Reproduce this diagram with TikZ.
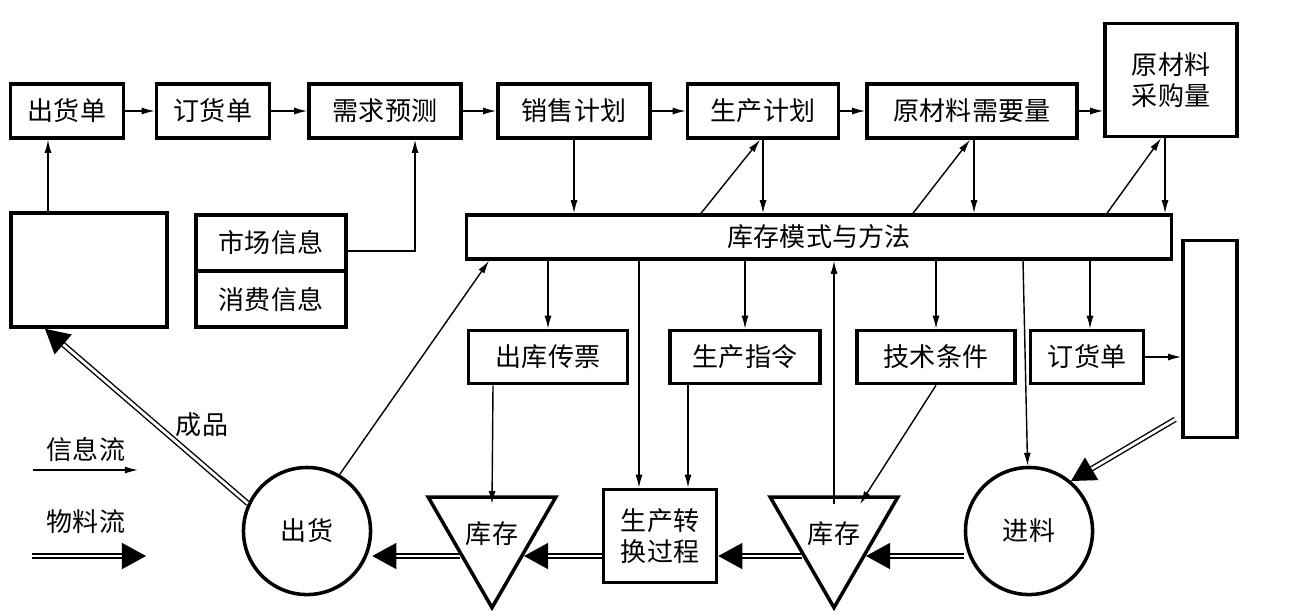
\documentclass[tikz,border=0pt]{standalone}
\usepackage{fontspec}
\setmainfont{Noto Sans CJK SC}
\usetikzlibrary{arrows.meta, shapes.geometric, calc}
\tikzset{
  box/.style={draw, line width=1pt, inner sep=0pt, font=\fontsize{7.4pt}{8.6pt}\selectfont, align=center},
  info/.style={-{Latex[length=0.13cm,width=0.07cm]}, line width=0.4pt},
  mat/.style={double, double distance=0.8pt, line width=0.4pt, -{Triangle[length=0.24cm,width=0.26cm]}},
  tri/.style={draw, line width=1pt, regular polygon, regular polygon sides=3, shape border rotate=180, minimum size=1.21cm, inner sep=0pt, font=\fontsize{7.4pt}{8.6pt}\selectfont},
  rnd/.style={draw, line width=1pt, circle, minimum size=1.27cm, inner sep=0pt, font=\fontsize{7.4pt}{8.6pt}\selectfont}
}
\begin{document}
\begin{tikzpicture}[x=0.01cm, y=-0.01cm]
            \useasboundingbox (0,0) rectangle (1289,614);
            % top row
            \node[box, minimum width=1.13cm, minimum height=0.54cm] (chd) at (67,111) {出货单};
            \node[box, minimum width=1.13cm, minimum height=0.54cm] (dhd) at (213,111) {订货单};
            \node[box, minimum width=1.52cm, minimum height=0.54cm] (xqyc) at (385,111) {需求预测};
            \node[box, minimum width=1.52cm, minimum height=0.54cm] (xsjh) at (574,111) {销售计划};
            \node[box, minimum width=1.51cm, minimum height=0.54cm] (scjh) at (763,111) {生产计划};
            \node[box, minimum width=2.10cm, minimum height=0.54cm] (ylxq) at (972,111) {原材料需要量};
            \node[box, minimum width=1.32cm, minimum height=1.13cm] (ylcg) at (1171,80) {原材料\\采购量};
            % middle
            \node[box, minimum width=1.56cm, minimum height=1.14cm] (kh) at (89,270) {};
            \node[box, minimum width=1.50cm, minimum height=0.56cm] (scxx) at (271,243) {市场信息};
            \node[box, minimum width=1.50cm, minimum height=0.56cm] (xfxx) at (271,299) {消费信息};
            \node[box, minimum width=7.05cm, minimum height=0.44cm] (kcms) at (819,237) {库存模式与方法};
            \node[box, minimum width=0.54cm, minimum height=1.97cm] (gys) at (1210,339) {};
            \node[box, minimum width=1.59cm, minimum height=0.53cm] (ckcp) at (548,357) {出库传票};
            \node[box, minimum width=1.50cm, minimum height=0.53cm] (sczl) at (745,357) {生产指令};
            \node[box, minimum width=1.58cm, minimum height=0.53cm] (jstj) at (936,357) {技术条件};
            \node[box, minimum width=1.13cm, minimum height=0.53cm] (dhd2) at (1087,357) {订货单};
            % bottom
            \node[rnd] (ch) at (307,531) {出货};
            \node[tri] (kc1) at (492,534) {库存};
            \node[box, minimum width=1.13cm, minimum height=0.93cm] (sczh) at (660,536) {生产转\\换过程};
            \node[tri] (kc2) at (834,534) {库存};
            \node[rnd] (jl) at (1029,531) {进料};
            \node[font=\fontsize{7.4pt}{8.6pt}\selectfont] (cp) at (202,425) {成品};
            \node[font=\fontsize{7.4pt}{8.6pt}\selectfont] (xxl) at (86,449) {信息流};
            \node[font=\fontsize{7.4pt}{8.6pt}\selectfont] (wll) at (86,522) {物料流};
            \coordinate (xxa) at (33,470);
            \coordinate (xxb) at (138,470);
            \coordinate (wla) at (32,556);
            \coordinate (wlb) at (146,556);

            % information flow
            \draw[info] (chd) -- (dhd);
            \draw[info] (dhd) -- (xqyc);
            \draw[info] (xqyc) -- (xsjh);
            \draw[info] (xsjh) -- (scjh);
            \draw[info] (scjh) -- (ylxq);
            \draw[info] (ylxq) -- (ylcg.west |- ylxq);
            \draw[info] (kh.north -| 48,0) -- (chd.south -| 48,0);
            \draw[info] (scxx.east |- 0,251) -- (415,251) -- (xqyc.south -| 415,0);
            \draw[info] (xsjh.south) -- (kcms.north -| xsjh.south);
            \draw[info] (kcms.north -| 701,0) -- (scjh.south -| 760,0);
            \draw[info] (scjh.south -| 763,0) -- (kcms.north -| 763,0);
            \draw[info] (kcms.north -| 913,0) -- (ylxq.south -| 970,0);
            \draw[info] (ylxq.south -| 974,0) -- (kcms.north -| 974,0);
            \draw[info] (kcms.north -| 1107,0) -- (ylcg.south -| 1161,0);
            \draw[info] (ylcg.south -| 1165,0) -- (kcms.north -| 1165,0);
            \draw[info] (ch.60) -- (kcms.south -| 489,0);
            \draw[info] (kcms.south -| ckcp) -- (ckcp);
            \draw[info] (kcms.south -| sczl) -- (sczl);
            \draw[info] (kcms.south -| jstj) -- (jstj);
            \draw[info] (kcms.south -| 1090,0) -- (dhd2.north -| 1090,0);
            \draw[info] (dhd2) -- (gys.west |- dhd2);
            \draw[info] (kcms.south -| 639,0) -- (sczh.north -| 639,0);
            \draw[info] (sczl.south -| 688,0) -- (sczh.north -| 688,0);
            \draw[info] ($(kc2.center)+(0,-30)$) -- (kcms.south -| kc2);
            \draw[info] (kcms.south -| 1023,0) -- (jl);
            \draw[info] (ckcp.south -| 493,0) -- ($(kc1.center)+(0,-30)$);
            \draw[info] (jstj.south) -- ($(kc2.center)+(26,-30)$);
            \draw[info] (xxa) -- (xxb);

            % material flow
            \draw[mat] (gys.south west) ++(-6,-20) -- (jl.50);
            \draw[mat] (jl.west |- 0,556) -- ($(kc2.center)+(32,22)$);
            \draw[mat] ($(kc2.center)+(-32,22)$) -- (sczh.east |- 0,556);
            \draw[mat] (sczh.west |- 0,556) -- ($(kc1.center)+(32,22)$);
            \draw[mat] ($(kc1.center)+(-32,22)$) -- (ch.east |- 0,556);
            \draw[mat] (ch.155) -- (kh.south -| 45,0);
            \draw[mat] (wla) -- (wlb);
        \end{tikzpicture}
\end{document}
